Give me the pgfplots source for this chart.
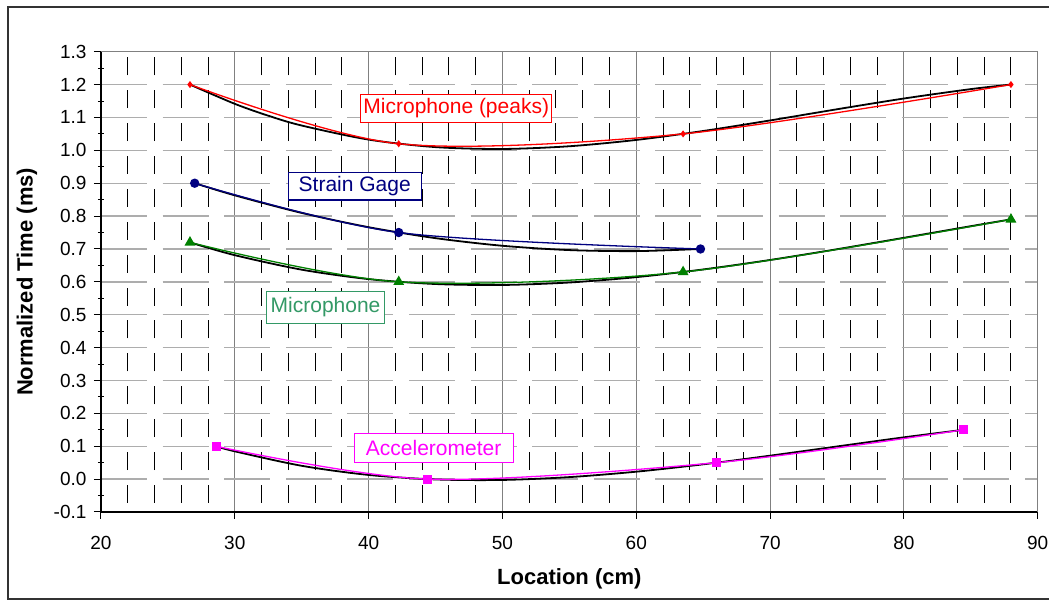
\documentclass[border=0pt]{standalone}
\usepackage{fontspec}
\setmainfont{Liberation Sans}
\usepackage{pgfplots}
\pgfplotsset{compat=1.18}

\definecolor{gridgray}{RGB}{192,192,192}
\definecolor{majgray}{RGB}{128,128,128}
\definecolor{xlred}{RGB}{255,0,0}
\definecolor{xlnavy}{RGB}{0,0,128}
\definecolor{xlgreen}{RGB}{0,128,0}
\definecolor{labgreen}{RGB}{51,153,102}
\definecolor{xlmag}{RGB}{255,0,255}

\begin{document}
\begin{tikzpicture}
\begin{axis}[
  scale only axis, width=936.7pt, height=460.3pt,
  xmin=20, xmax=90, ymin=-0.1, ymax=1.3,
  axis lines=left, axis line style={-, black, line width=1.2pt},
  xtick={20,30,40,50,60,70,80,90},
  ytick={-0.1,0,0.1,0.2,0.3,0.4,0.5,0.6,0.7,0.8,0.9,1.0,1.1,1.2,1.3},
  minor xtick={22,24,26,28,32,34,36,38,42,44,46,48,52,54,56,58,62,64,66,68,72,74,76,78,82,84,86,88},
  minor ytick={-0.05,0.05,0.15,0.25,0.35,0.45,0.55,0.65,0.75,0.85,0.95,1.05,1.15,1.25},
  xmajorgrids, xminorgrids, ymajorgrids,
  major x grid style={majgray, line width=1pt, solid},
  minor x grid style={black, line width=1pt, dash pattern=on 18pt off 14.9pt, dash phase=23.9pt},
  major y grid style={gridgray!90!black, line width=1.4pt, dash pattern=on 46pt off 15.6pt},
  tick align=outside,
  major tick length=7pt, minor tick length=6pt,
  tick style={black, line width=1pt},
  minor x tick style={draw=none},
  minor y tick style={xshift=3pt},
  /pgf/number format/assume math mode=true,
  tick label style={font=\fontsize{19}{19}\selectfont},
  xticklabel style={yshift=-14pt},
  yticklabel style={xshift=-4pt, /pgf/number format/fixed, /pgf/number format/fixed zerofill, /pgf/number format/precision=1},
  xlabel={Location (cm)},
  ylabel={Normalized Time (ms)},
  label style={font=\fontsize{22}{22}\selectfont\bfseries},
  xlabel style={at={(axis description cs:0.5,-0.1456)}, anchor=center},
  ylabel style={at={(axis description cs:-0.079,0.5)}, anchor=center},
  clip=false,
]
% trend lines (black)
\addplot[black, line width=1.8pt, smooth] coordinates {
  (26.65,1.2) (30,1.1414) (32.5,1.1053) (35,1.0754) (40,1.0326) (45,1.0098) (50,1.0041)
  (55,1.0124) (60,1.0316) (65,1.0588) (70,1.0909) (75,1.1249) (80,1.1576) (85,1.1862) (88,1.2)};
\addplot[black, line width=1.8pt, smooth] coordinates {
  (27,0.90) (30,0.8631) (35,0.8096) (40,0.7662) (45,0.7329) (50,0.7097) (55,0.6966) (60,0.6935) (64.8,0.70)};
\addplot[black, line width=1.8pt, smooth] coordinates {
  (26.65,0.72) (30,0.6811) (35,0.6370) (40,0.6083) (45,0.5934) (50,0.5905) (55,0.5980)
  (60,0.6143) (65,0.6377) (70,0.6665) (75,0.6992) (80,0.7340) (85,0.7693) (88,0.79)};
\addplot[black, line width=1.8pt, smooth] coordinates {
  (28.6,0.10) (30,0.0845) (35,0.0405) (40,0.0127) (45,-0.0010) (50,-0.0025) (55,0.0061)
  (60,0.0226) (65,0.0450) (70,0.0713) (75,0.0993) (80,0.1271) (84.45,0.15)};
% measured series
\addplot[xlred, line width=1.3pt, smooth, mark=diamond*, mark size=2.5pt, mark options={solid}] coordinates {
  (26.65,1.20) (42.25,1.02) (63.5,1.05) (88,1.20)};
\addplot[xlnavy, line width=1.3pt, smooth, mark=*, mark size=4pt] coordinates {
  (27.0,0.90) (42.25,0.75) (64.8,0.70)};
\addplot[xlgreen, line width=1.3pt, smooth, mark=triangle*, mark size=5pt] coordinates {
  (26.65,0.72) (42.25,0.60) (63.5,0.63) (88,0.79)};
\addplot[xlmag, line width=1.3pt, smooth, mark=square*, mark size=3.8pt] coordinates {
  (28.6,0.10) (44.4,0.00) (66.0,0.05) (84.45,0.15)};
% plot area border (top, right)
\draw[majgray, line width=1.2pt] (rel axis cs:0,1) -- (rel axis cs:1,1) -- (rel axis cs:1,0);
% series labels
\tikzset{lab/.style={fill=white, line width=1.2pt, inner sep=0pt, minimum height=28.5pt, font=\fontsize{21}{21}\selectfont}}
\node[lab, draw=xlred, text=xlred, minimum width=191pt] at (axis cs:46.55,1.1273) {Microphone (peaks)};
\node[lab, draw=xlnavy, text=xlnavy, minimum width=133pt, minimum height=27.3pt] at (axis cs:38.96,0.8906) {Strain Gage};
\node[lab, draw=labgreen, text=labgreen, minimum width=118pt, minimum height=31.6pt] at (axis cs:36.78,0.522) {Microphone};
\node[lab, draw=xlmag, text=xlmag, minimum width=159pt, minimum height=29.4pt] at (axis cs:44.86,0.0947) {Accelerometer};
\end{axis}
\pgfresetboundingbox
\useasboundingbox (-101pt,-89pt) rectangle (948pt,512pt);
\draw[black!80, line width=2pt] (-93pt,-87pt) rectangle (960pt,505pt);
\end{tikzpicture}
\end{document}
